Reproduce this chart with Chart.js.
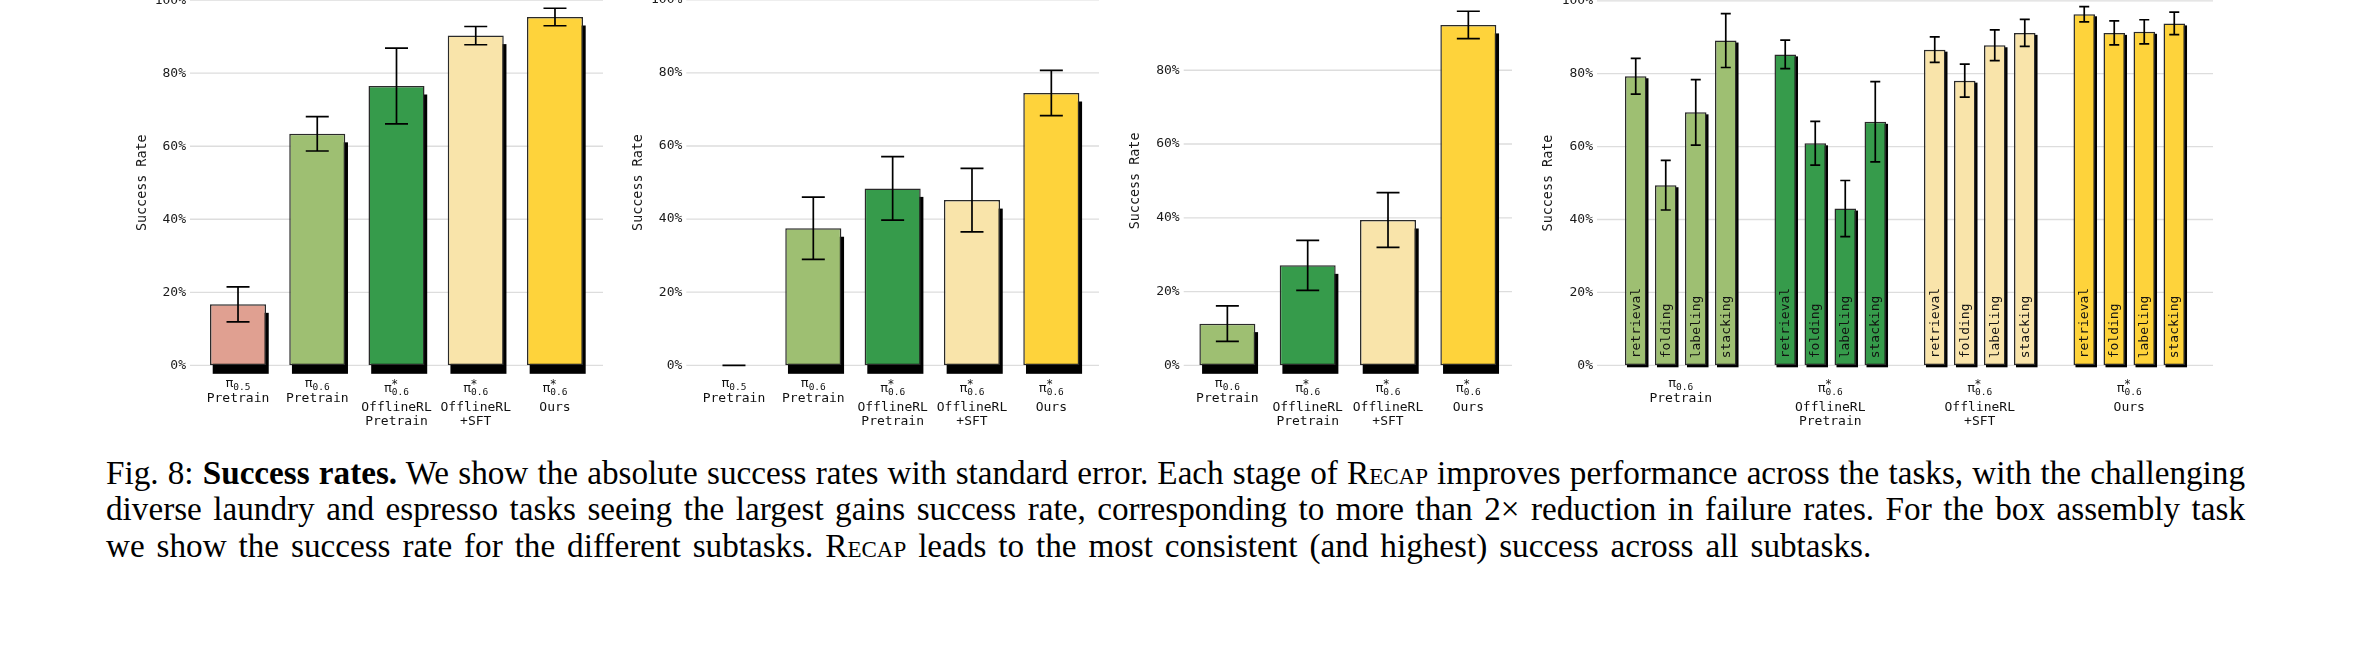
<!DOCTYPE html>
<html>
<head>
<meta charset="utf-8">
<script src="https://cdn.jsdelivr.net/npm/chart.js@4.4.0/dist/chart.umd.min.js"></script>
<style>
  html, body { margin: 0; padding: 0; background: #fff; width: 2370px; height: 650px; overflow: hidden; position: relative; }
  canvas { position: absolute; }
  #caption { position: absolute; left: 106px; top: 455px; width: 2139px; font-family: 'Liberation Serif', 'Times New Roman', serif; font-size: 33.2px; line-height: 36.3px; color: #000; }
  #caption div { white-space: nowrap; text-align: justify; text-align-last: justify; }
  #caption div.last { text-align-last: left; word-spacing: 3.6px; }
  .sc { font-variant: small-caps; }
</style>
</head>
<body>
<canvas id="c1"></canvas>
<canvas id="c2"></canvas>
<canvas id="c3"></canvas>
<canvas id="c4"></canvas>
<div id="caption">
  <div>Fig. 8: <b>Success rates.</b> We show the absolute success rates with standard error. Each stage of R<span class="sc">ecap</span> improves performance across the tasks, with the challenging</div>
  <div>diverse laundry and espresso tasks seeing the largest gains success rate, corresponding to more than 2× reduction in failure rates. For the box assembly task</div>
  <div class="last">we show the success rate for the different subtasks. R<span class="sc">ecap</span> leads to the most consistent (and highest) success across all subtasks.</div>
</div>
<script>
// x labels: policy (π, optional *, subscript) and the training stage lines
const policies = ['π_0.5', 'π_0.6', 'π*_0.6', 'π*_0.6', 'π*_0.6'];
const stages = [['Pretrain'], ['Pretrain'], ['OfflineRL', 'Pretrain'], ['OfflineRL', '+SFT'], ['Ours']];
const colors = ['#E0A091', '#9EBF72', '#369B4B', '#F9E4AA', '#FED33B'];
const yTicks = [0, 20, 40, 60, 80, 100];

// panel 1
const task1Values = [16.7, 63.4, 76.5, 90.3, 95.4];
const task1Errors = [4.8, 4.7, 10.4, 2.5, 2.4];
// panel 2
const task2Values = [0, 37.5, 48.4, 45.2, 74.5];
const task2Errors = [0, 8.5, 8.7, 8.7, 6.2];
// panel 3 (no pi0.5 baseline)
const task3Values = [11.3, 27.1, 39.4, 92.3];
const task3Errors = [4.8, 6.8, 7.4, 3.7];

// panel 4: box assembly subtasks, one value per policy (pi0.6 pretrain .. ours)
const subtasks = ['retrieval', 'folding', 'labeling', 'stacking'];
const retrievalValues = [79.3, 85.3, 86.6, 96.3];
const retrievalErrors = [4.9, 3.9, 3.5, 2.1];
const foldingValues = [49.4, 60.9, 78.1, 91.2];
const foldingErrors = [6.8, 6.0, 4.5, 3.3];
const labelingValues = [69.4, 43.0, 87.8, 91.5];
const labelingErrors = [9.0, 7.7, 4.2, 3.3];
const stackingValues = [89.1, 66.8, 91.2, 93.8];
const stackingErrors = [7.4, 11.0, 3.7, 3.1];

const mono = '"DejaVu Sans Mono", monospace';

function drawPolicy(ctx, cx, baseline, policy) {
  const star = policy.includes('*');
  const sub = policy.split('_')[1];
  const big = '13px ' + mono, small = '9.5px ' + mono;
  ctx.font = big;
  const wPi = ctx.measureText('π').width;
  ctx.font = small;
  const wSub = ctx.measureText(sub).width;
  const x0 = cx - (wPi + wSub) / 2;
  ctx.textAlign = 'left';
  ctx.textBaseline = 'alphabetic';
  ctx.font = big;
  ctx.fillText('π', x0, baseline);
  ctx.font = small;
  ctx.fillText(sub, x0 + wPi, baseline + 2.5);
  if (star) {
    ctx.font = '11.5px ' + mono;
    ctx.fillText('*', x0 + wPi - 0.5, baseline - 4.5);
  }
}

function figurePlugin(cfg, idx) {
  return {
    id: 'figure',
    beforeDatasetsDraw(chart) {
      const { ctx, chartArea, scales: { y } } = chart;
      ctx.save();
      ctx.strokeStyle = '#dddddd';
      ctx.lineWidth = 1.3;
      y.ticks.forEach(t => {
        const py = y.getPixelForValue(t.value);
        ctx.beginPath();
        ctx.moveTo(chartArea.left - cfg.gridPad, py);
        ctx.lineTo(chartArea.right + cfg.gridPad, py);
        ctx.stroke();
      });
      // drop shadow behind each bar
      ctx.fillStyle = '#000';
      chart.data.datasets.forEach((ds, i) => {
        chart.getDatasetMeta(i).data.forEach(bar => {
          const h = bar.base - bar.y;
          if (h <= 0) return;
          ctx.fillRect(bar.x - bar.width / 2 + cfg.shadow[0], bar.y + cfg.shadow[1], bar.width, h);
        });
      });
      ctx.restore();
    },
    afterDatasetsDraw(chart) {
      const { ctx, scales: { y } } = chart;
      ctx.save();
      chart.data.datasets.forEach((ds, i) => {
        chart.getDatasetMeta(i).data.forEach((bar, j) => {
          if (cfg.innerLabels) {
            ctx.save();
            ctx.translate(bar.x, bar.base - 7);
            ctx.rotate(-Math.PI / 2);
            ctx.font = '13px ' + mono;
            ctx.fillStyle = '#111';
            ctx.textAlign = 'left';
            ctx.textBaseline = 'middle';
            ctx.fillText(ds.label, 0, 0.5);
            ctx.restore();
          }
          const v = ds.data[j], e = ds.errors[j];
          const yt = y.getPixelForValue(v + e), yb = y.getPixelForValue(v - e);
          ctx.strokeStyle = '#000';
          ctx.lineWidth = 1.7;
          ctx.beginPath();
          ctx.moveTo(bar.x, yt); ctx.lineTo(bar.x, yb);
          ctx.moveTo(bar.x - cfg.cap / 2, yt); ctx.lineTo(bar.x + cfg.cap / 2, yt);
          ctx.moveTo(bar.x - cfg.cap / 2, yb); ctx.lineTo(bar.x + cfg.cap / 2, yb);
          ctx.stroke();
        });
      });
      ctx.restore();
    },
    afterDraw(chart) {
      const { ctx, scales: { x, y } } = chart;
      const base = y.getPixelForValue(0);
      ctx.save();
      ctx.fillStyle = '#111';
      idx.forEach((k, i) => {
        const cx = x.getPixelForValue(i);
        const star = policies[k].includes('*');
        drawPolicy(ctx, cx, base + (star ? 27 : 22), policies[k]);
        ctx.font = '13px ' + mono;
        ctx.textAlign = 'center';
        ctx.textBaseline = 'middle';
        stages[k].forEach((line, n) => {
          ctx.fillText(line, cx, base + (star ? 42 : 33.5) + n * 14);
        });
      });
      ctx.restore();
    }
  };
}

function makePanel(id, cfg, idx, datasets) {
  const canvas = document.getElementById(id);
  const left = Math.floor(cfg.titleX - 20);
  const padLeft = cfg.titleX - 11.8 - left;
  const width = Math.ceil(cfg.catRight + 18 - left);
  const padRight = left + width - cfg.catRight;
  canvas.width = width;
  canvas.height = 460;
  canvas.style.left = left + 'px';
  canvas.style.top = '-20px';

  new Chart(canvas, {
    type: 'bar',
    data: { labels: idx.map(k => policies[k]), datasets },
    options: {
      responsive: false,
      animation: false,
      layout: { padding: { left: padLeft, right: padRight, top: 16.5, bottom: 74.7 } },
      plugins: { legend: { display: false }, tooltip: { enabled: false } },
      datasets: { bar: { categoryPercentage: cfg.catPct, barPercentage: cfg.barPct } },
      scales: {
        x: { display: false, offset: true },
        y: {
          min: yTicks[0],
          max: yTicks[yTicks.length - 1],
          afterBuildTicks: s => { s.ticks = yTicks.map(v => ({ value: v })); },
          ticks: {
            callback: v => v + '%',
            padding: cfg.gridPad + 4,
            color: '#1a1a1a',
            font: { family: mono, size: 13 }
          },
          grid: { display: false, drawTicks: false },
          border: { display: false },
          title: {
            display: true,
            text: 'Success Rate',
            color: '#1a1a1a',
            font: { family: mono, size: 13.4 },
            padding: { top: 4, bottom: 0 }
          },
          afterFit: s => { s.width = cfg.catLeft - left - padLeft; }
        }
      }
    },
    plugins: [figurePlugin(cfg, idx)]
  });
}

function single(values, errors, idx) {
  return [{
    label: 'success',
    data: values,
    errors: errors,
    backgroundColor: idx.map(k => colors[k]),
    borderColor: '#2a2a2a',
    borderWidth: 1.5,
    borderSkipped: false
  }];
}

const wide = { shadow: [2.7, 8.5], cap: 23, catPct: 1, barPct: 0.707 };
makePanel('c1', { ...wide, titleX: 142, catLeft: 198.4, catRight: 594.6, gridPad: 8.4 },
  [0, 1, 2, 3, 4], single(task1Values, task1Errors, [0, 1, 2, 3, 4]));
makePanel('c2', { ...wide, titleX: 638, catLeft: 694.3, catRight: 1091, gridPad: 8 },
  [0, 1, 2, 3, 4], single(task2Values, task2Errors, [0, 1, 2, 3, 4]));
makePanel('c3', { ...wide, titleX: 1135, catLeft: 1187.2, catRight: 1508.5, gridPad: 3.5, barPct: 0.697 },
  [1, 2, 3, 4], single(task3Values, task3Errors, [1, 2, 3, 4]));

const boxSeries = [
  [retrievalValues, retrievalErrors],
  [foldingValues, foldingErrors],
  [labelingValues, labelingErrors],
  [stackingValues, stackingErrors]
];
makePanel('c4', { titleX: 1548, catLeft: 1606, catRight: 2204, gridPad: 9, shadow: [2, 2], cap: 10, catPct: 0.803, barPct: 0.717, innerLabels: true },
  [1, 2, 3, 4],
  boxSeries.map(([vals, errs], i) => ({
    label: subtasks[i],
    data: vals,
    errors: errs,
    backgroundColor: [1, 2, 3, 4].map(k => colors[k]),
    borderColor: '#2a2a2a',
    borderWidth: 1.5,
    borderSkipped: false
  })));
</script>
</body>
</html>
